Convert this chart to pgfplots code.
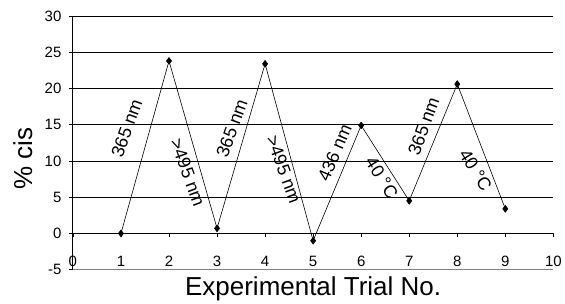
\documentclass[border=0pt]{standalone}
\usepackage{fontspec}
\setmainfont{Liberation Sans}
\usepackage{pgfplots}
\pgfplotsset{compat=1.18}
\begin{document}
\begin{tikzpicture}
\begin{axis}[
  scale only axis,
  width=481pt, height=254pt,
  xmin=0, xmax=10, ymin=-5, ymax=30,
  axis x line=middle, axis y line=left,
  hide obscured x ticks=false,
  axis line style={-, black, line width=0.9pt},
  xtick={0,1,...,10}, ytick={-5,0,5,10,15,20,25,30},
  tick align=outside, major tick length=4pt,
  tick style={black, line width=0.8pt},
  ymajorgrids, grid style={black, line width=0.9pt},
  /pgf/number format/assume math mode=true,
  ticklabel style={font=\fontsize{15}{15}\selectfont},
  xticklabel style={yshift=-15pt},
  yticklabel style={xshift=-4pt},
  xlabel={Experimental Trial No.},
  ylabel={\% cis},
  xlabel style={font=\fontsize{26}{26}\selectfont, at={(axis description cs:0.5,0)}, anchor=north, yshift=-3pt},
  ylabel style={font=\fontsize{26}{26}\selectfont, at={(axis description cs:-0.104,0.437)}, anchor=center, rotate=0},
  clip=false,
]
\draw[gray, line width=1.6pt] (rel axis cs:0,0) -- (rel axis cs:1,0);
\addplot[black, line width=0.6pt, mark=diamond*, mark size=3.4pt] coordinates {
  (1,0) (2,23.8) (3,0.7) (4,23.4) (5,-1) (6,14.9) (7,4.5) (8,20.6) (9,3.4)
};
\begin{scope}[every node/.style={font=\fontsize{18}{18}\selectfont, inner sep=0pt}]
\node[rotate=70] at (axis cs:1.12,14.5) {365 nm};
\node[rotate=-70] at (axis cs:2.39,8.4) {>495 nm};
\node[rotate=70] at (axis cs:3.31,14.5) {365 nm};
\node[rotate=-70] at (axis cs:4.39,8.8) {>495 nm};
\node[rotate=67] at (axis cs:5.45,11.1) {436 nm};
\node[rotate=-58] at (axis cs:6.43,7.7) {40 °C};
\node[rotate=70] at (axis cs:7.30,14.8) {365 nm};
\node[rotate=-58] at (axis cs:8.38,8.7) {40 °C};
\end{scope}
\path (rel axis cs:0,0) ++(-73pt,-32pt) rectangle ++(565pt,302pt);
\end{axis}
\end{tikzpicture}
\end{document}
